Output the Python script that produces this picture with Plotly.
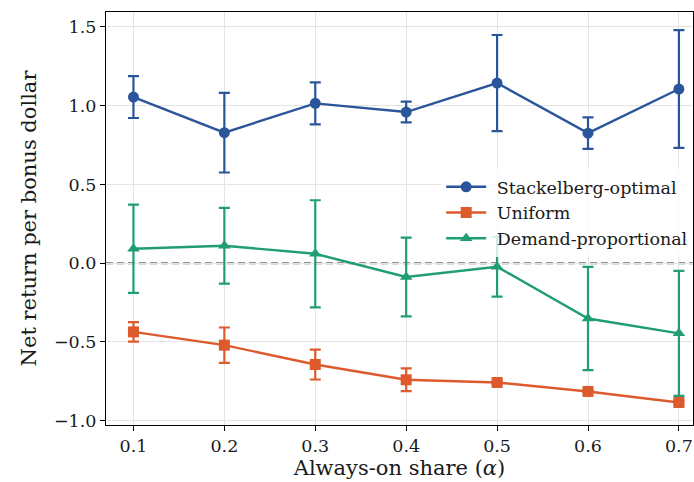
import plotly.graph_objects as go

alpha = [0.1, 0.2, 0.3, 0.4, 0.5, 0.6, 0.7]
stack_mean = [1.055, 0.829, 1.015, 0.960, 1.144, 0.826, 1.106]
stack_err = [0.133, 0.253, 0.133, 0.066, 0.305, 0.100, 0.374]
unif_mean = [-0.436, -0.520, -0.643, -0.740, -0.757, -0.814, -0.884]
unif_err = [0.062, 0.112, 0.095, 0.072, 0.010, 0.010, 0.012]
dem_mean = [0.092, 0.111, 0.060, -0.087, -0.022, -0.351, -0.445]
dem_err = [0.280, 0.240, 0.340, 0.250, 0.190, 0.328, 0.397]

series = [
    ("Stackelberg-optimal", stack_mean, stack_err, "#2b559b", "circle"),
    ("Uniform", unif_mean, unif_err, "#dc5a2c", "square"),
    ("Demand-proportional", dem_mean, dem_err, "#209d75", "triangle-up"),
]

fig = go.Figure()
for name, m, e, c, sym in series:
    fig.add_trace(go.Scatter(
        x=alpha, y=m, name="\u00a0" + name, mode="lines+markers",
        line=dict(color=c, width=2.4),
        marker=dict(color=c, symbol=sym, size=11),
        error_y=dict(type="data", array=e, visible=True, color=c, thickness=2.2, width=5.5),
    ))

fig.add_shape(type="line", xref="paper", x0=0, x1=1, yref="y", y0=0, y1=0,
              line=dict(color="#6e6e6e", width=2, dash="7px,4px"), layer="between")

axis_common = dict(
    showline=True, linecolor="black", linewidth=1.2, mirror=True,
    ticks="outside", ticklen=5, tickcolor="black",
    showgrid=True, gridcolor="#e4e4e4", gridwidth=1.2, zeroline=False,
    tickfont=dict(family="DejaVu Serif", size=17.5, color="#1a1a1a"),
)

fig.update_layout(
    width=694, height=482,
    margin=dict(l=106, r=1, t=12, b=57, autoexpand=False),
    paper_bgcolor="white", plot_bgcolor="white",
    font=dict(family="DejaVu Serif", color="#1a1a1a"),
    xaxis=dict(range=[0.0698, 0.7155], tickvals=alpha, ticktext=["0.1", "0.2", "0.3", "0.4", "0.5", "0.6", "0.7"],
               title=dict(text="Always-on share (<i>α</i>)", font=dict(size=21), standoff=2), **axis_common),
    yaxis=dict(range=[-1.027, 1.595], tickvals=[-1.0, -0.5, 0.0, 0.5, 1.0, 1.5],
               ticktext=["\u22121.0", "\u22120.5", "0.0", "0.5", "1.0", "1.5"],
               title=dict(text="Net return per bonus dollar", font=dict(size=21), standoff=11), **axis_common),
    legend=dict(x=0.571, y=0.62, xanchor="left", yanchor="top",
                bgcolor="rgba(255,255,255,0.8)", borderwidth=0,
                font=dict(family="DejaVu Serif", size=17.5, color="#1a1a1a"),
                tracegroupgap=0, itemwidth=40),
    showlegend=True,
)

fig.write_html("out.html")
